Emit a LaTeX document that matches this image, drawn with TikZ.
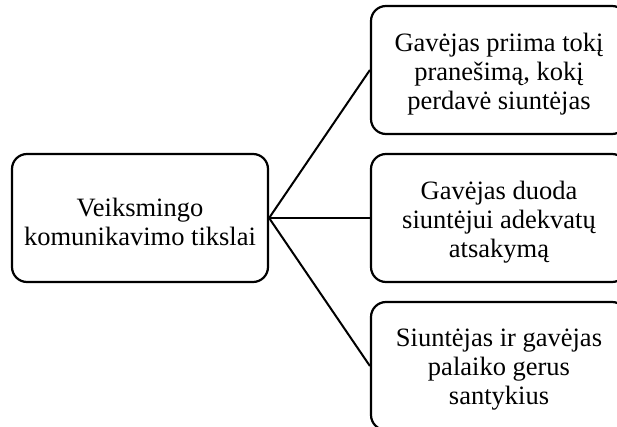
\documentclass[tikz,border=0pt]{standalone}
\usepackage{fontspec}
\setmainfont{Liberation Serif}
\begin{document}
\begin{tikzpicture}[x=1pt,y=-1pt,
  goalbox/.style={draw=black, line width=2.2pt, rounded corners=15pt,
    minimum width=256pt, minimum height=128pt, inner sep=0pt},
  goaltext/.style={align=center, inner sep=0pt,
    font=\fontsize{26.5}{29}\selectfont},
  link/.style={draw=black, line width=2pt}]
  \useasboundingbox (0,0) rectangle (617,427);
  % boxes
  \node[goalbox] (root) at (140,218) {};
  \node[goalbox] (g1) at (499,70) {};
  \node[goalbox] (g2) at (499,218) {};
  \node[goalbox] (g3) at (499,366) {};
  % labels, set slightly below the box centres
  \node[goaltext] (troot) at ([yshift=-4pt]root.center) {Veiksmingo\\komunikavimo tikslai};
  \node[goaltext] (tg1) at ([yshift=-4pt]g1.center) {Gavėjas priima tokį\\pranešimą, kokį\\perdavė siuntėjas};
  \node[goaltext] (tg2) at ([yshift=-4pt]g2.center) {Gavėjas duoda\\siuntėjui adekvatų\\atsakymą};
  \node[goaltext] (tg3) at ([yshift=-4pt]g3.center) {Siuntėjas ir gavėjas\\palaiko gerus\\santykius};
  % connectors
  \draw[link] (root.east) -- (g1.west);
  \draw[link] (root.east) -- (g2.west);
  \draw[link] (root.east) -- (g3.west);
\end{tikzpicture}
\end{document}
